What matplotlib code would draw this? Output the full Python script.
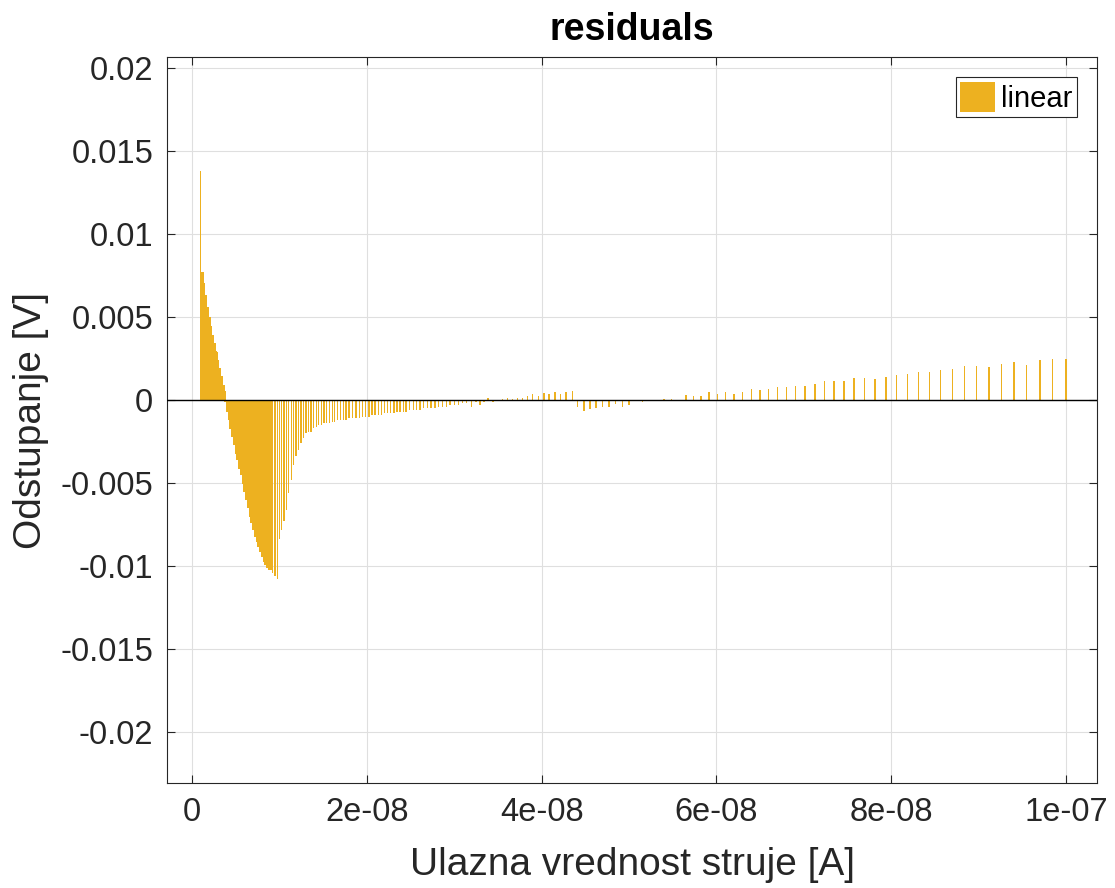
import matplotlib
matplotlib.use("Agg")
import matplotlib.pyplot as plt
from matplotlib.patches import Patch
import numpy as np

plt.rcParams['font.family'] = ['Liberation Sans', 'DejaVu Sans']

# ---- data (x in nA, residual in V) ----
spike_x_nA = [1.0]
spike_v = [0.0138]

dense_x_nA = [1.1, 1.3, 1.5, 1.7, 1.9, 2.1, 2.3, 2.5, 2.7, 2.9,
              3.1, 3.3, 3.5, 3.7, 3.9, 4.1, 4.3, 4.5, 4.7, 4.9,
              5.1, 5.3, 5.5, 5.7, 5.9, 6.1, 6.3, 6.5, 6.7, 6.9,
              7.1, 7.3, 7.5, 7.7, 7.9, 8.1, 8.3, 8.5, 8.7, 8.9]
dense_v = [0.0077, 0.0070, 0.0063, 0.0056, 0.0050, 0.0044, 0.0039, 0.0034, 0.0029, 0.0024,
           0.0019, 0.0014, 0.0009, 0.0005, -0.0001, -0.0007, -0.0012, -0.0017, -0.0022, -0.0027,
           -0.0032, -0.0036, -0.0041, -0.0045, -0.0050, -0.0055, -0.0060, -0.0065, -0.0070, -0.0074,
           -0.0078, -0.0082, -0.0085, -0.0088, -0.0091, -0.0094, -0.0097, -0.0099, -0.0101, -0.0102]

sparse_x_nA = [
    9.23, 9.50, 9.76, 9.99, 10.26, 10.53, 10.80, 11.08, 11.35, 11.62,
    11.90, 12.19, 12.47, 12.76, 13.04, 13.33, 13.62, 13.91, 14.21, 14.51,
    14.81, 15.10, 15.41, 15.72, 16.03, 16.34, 16.65, 16.97, 17.29, 17.61,
    17.96, 18.36, 18.76, 19.14, 19.53, 19.87, 20.25, 20.59, 20.94, 21.32,
    21.70, 22.00, 22.35, 22.74, 23.11, 23.46, 23.80, 24.18, 24.49, 24.86,
    25.32, 25.71, 26.09, 26.46, 26.92, 27.35, 27.80, 28.23, 28.64, 29.10,
    29.52, 30.01, 30.47, 30.97, 31.43, 32.00, 32.49, 32.95, 33.41, 33.87,
    34.44, 34.98, 35.55, 36.12, 36.69, 37.22, 37.84, 38.41, 38.98, 39.62,
    40.27, 40.85, 41.53, 42.19, 42.79, 43.51, 44.13, 44.85, 45.54, 46.22,
    46.99, 47.71, 48.43, 49.23, 50.00, 50.80, 51.57, 52.40, 53.17, 54.00,
    54.89, 55.72, 56.52, 57.36, 58.24, 59.15, 60.10, 61.06, 62.01, 63.01,
    63.99, 64.99, 65.98, 66.97, 68.04, 69.07, 70.14, 71.28, 72.35, 73.46,
    74.60, 75.74, 76.92, 78.15, 79.41, 80.63, 81.84, 83.15, 84.36, 85.66,
    86.99, 88.41, 89.78, 91.19, 92.60, 94.05, 95.50, 97.03, 98.48, 100.0]
sparse_v = [
    -0.0104, -0.0106, -0.0108, -0.0084, -0.0078, -0.0073, -0.0066, -0.0056, -0.0048, -0.0039,
    -0.0034, -0.0030, -0.0026, -0.0023, -0.0020, -0.0019, -0.0019, -0.0017, -0.0016, -0.0015,
    -0.0015, -0.0014, -0.0014, -0.0014, -0.0013, -0.0013, -0.0012, -0.0012, -0.0012, -0.0012,
    -0.0011, -0.0011, -0.0011, -0.0011, -0.0010, -0.0010, -0.0010, -0.0009, -0.0009, -0.0009,
    -0.0009, -0.0008, -0.0008, -0.0008, -0.0008, -0.0007, -0.0007, -0.0007, -0.0007, -0.0006,
    -0.0006, -0.0006, -0.0006, -0.0005, -0.0005, -0.0005, -0.0005, -0.0004, -0.0004, -0.0004,
    -0.0003, -0.0003, -0.0003, -0.0002, -0.0002, -0.0004, -0.0001, -0.0003, -0.0001, 0.0001,
    -0.0001, -0.00002, 0.00005, 0.0001, 0.00005, 0.0001, 0.0001, 0.00026, 0.00036, 0.00026,
    0.0004, 0.00036, 0.0005, 0.00038, 0.0005, 0.00056, -0.00044, -0.00064, -0.00056, -0.0005,
    -0.0004, -0.0004, -0.00024, -0.0004, -0.0003, -0.00008, -0.00014, -0.00002, -0.00008, 0.00006,
    0.00006, 0.00001, 0.00032, 0.00026, 0.00026, 0.0005, 0.00038, 0.0005, 0.00038, 0.0005,
    0.00068, 0.00062, 0.00068, 0.0008, 0.0008, 0.00086, 0.00086, 0.00098, 0.00113, 0.00113,
    0.00113, 0.0013, 0.0013, 0.00125, 0.0014, 0.0015, 0.00155, 0.00166, 0.00166, 0.00178,
    0.00185, 0.00207, 0.00207, 0.002, 0.00218, 0.0023, 0.0021, 0.0024, 0.0025, 0.0025]

xticks = [0, 2e-8, 4e-8, 6e-8, 8e-8, 1e-7]
xticklabels = ['0', '2e-08', '4e-08', '6e-08', '8e-08', '1e-07']
yticks = [-0.02, -0.015, -0.01, -0.005, 0, 0.005, 0.01, 0.015, 0.02]
yticklabels = ['-0.02', '-0.015', '-0.01', '-0.005', '0', '0.005', '0.01', '0.015', '0.02']

bar_color = '#EDB120'
text_color = '#262626'
NA = 1e-9

fig = plt.figure(figsize=(11.15, 8.88), dpi=100)
ax = fig.add_axes([0.1498, 0.1182, 0.8341, 0.8176])

dense = ax.bar(np.array(dense_x_nA) * NA, dense_v, width=0.32 * NA, color=bar_color,
               linewidth=0, zorder=2, antialiased=False)
for p in dense:
    p.set_snap(False)
ax.bar(np.array(spike_x_nA) * NA, spike_v, width=0.07 * NA, color=bar_color, linewidth=0, zorder=2)
ax.bar(np.array(sparse_x_nA) * NA, sparse_v, width=0.14 * NA, color=bar_color, linewidth=0, zorder=2)
ax.axhline(0, color='black', linewidth=1.0, zorder=3)

ax.set_xlim(-2.86e-9, 1.0355e-7)
ax.set_ylim(-0.02307, 0.02066)
ax.set_xticks(xticks)
ax.set_xticklabels(xticklabels)
ax.set_yticks(yticks)
ax.set_yticklabels(yticklabels)

ax.grid(True, color='#DFDFDF', linewidth=0.8, zorder=0)
ax.set_axisbelow(True)
ax.tick_params(direction='in', length=6, width=0.8, colors=text_color,
               labelsize=23.5, top=True, right=True, pad=10)
for s in ax.spines.values():
    s.set_color(text_color)
    s.set_linewidth(0.8)

ax.set_xlabel('Ulazna vrednost struje [A]', fontsize=28, color=text_color, labelpad=14)
ax.set_ylabel('Odstupanje [V]', fontsize=28, color=text_color, labelpad=8)
ax.set_title('residuals', fontsize=27, fontweight='bold', color='black', pad=12)

leg = ax.legend(handles=[Patch(facecolor=bar_color, edgecolor='none', label='linear')],
                loc='upper right', fontsize=21, frameon=True, fancybox=False,
                framealpha=1, edgecolor=text_color, borderpad=0.15, handlelength=1.2,
                handleheight=1.2, handletextpad=0.2, borderaxespad=0.7)
leg.get_frame().set_linewidth(0.8)

fig.savefig('out.png', dpi=100)
